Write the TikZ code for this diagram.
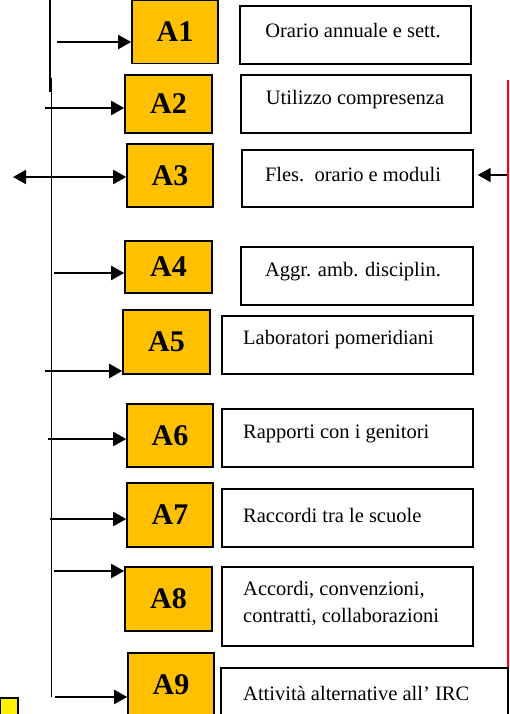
\documentclass[tikz,border=0pt]{standalone}
\usepackage{fontspec}
\setmainfont{Liberation Serif}
\usetikzlibrary{arrows.meta}
\definecolor{boxgold}{HTML}{FFC000}
\tikzset{
  codebox/.style={draw=black, line width=1.6pt, fill=boxgold, inner sep=0pt,
    font=\fontsize{30}{30}\selectfont\bfseries, text=black},
  descbox/.style={draw=black, line width=1.4pt, fill=white, inner sep=0pt},
  desc/.style={inner sep=0pt, font=\fontsize{20.5}{24}\selectfont, text=black},
  tip/.tip={Triangle[length=13pt,width=14pt]},
  link/.style={line width=2pt, -tip},
  spine/.style={line width=1.6pt},
}
\begin{document}
\begin{tikzpicture}[x=1pt, y=-1pt]
\useasboundingbox (0,0) rectangle (510,714);
\clip (0,0) rectangle (510,714);
\fill[white] (0,0) rectangle (510,714);

% vertical backbone
\coordinate (v1a) at (50,0);
\coordinate (v1b) at (50,92);
\coordinate (v2a) at (51.5,78);
\coordinate (v2b) at (51.5,697);
\draw[spine] (v1a) -- (v1b);
\draw[spine] (v2a) -- (v2b);

% red margin line
\coordinate (ra) at (508,80);
\coordinate (rb) at (508,714);
\draw[red, line width=1.6pt] (ra) -- (rb);

% activity codes
\node[codebox, minimum width=86pt, minimum height=63pt] (A1) at (175,32) {A1};
\node[codebox, minimum width=87pt, minimum height=58pt] (A2) at (168.5,104) {A2};
\node[codebox, minimum width=86pt, minimum height=63pt] (A3) at (170,175.5) {A3};
\node[codebox, minimum width=87pt, minimum height=52pt] (A4) at (168.5,267) {A4};
\node[codebox, minimum width=87pt, minimum height=64pt] (A5) at (166.5,342) {A5};
\node[codebox, minimum width=86pt, minimum height=63pt] (A6) at (170,435.5) {A6};
\node[codebox, minimum width=86pt, minimum height=64pt] (A7) at (170,515) {A7};
\node[codebox, minimum width=87pt, minimum height=64pt] (A8) at (168.5,599) {A8};
\node[codebox, minimum width=86pt, minimum height=64pt] (A9) at (171,685) {A9};

% description boxes
\node[descbox, minimum width=231pt, minimum height=58pt] (W1) at (355.5,35) {};
\node[descbox, minimum width=230pt, minimum height=58pt] (W2) at (356,104) {};
\node[descbox, minimum width=231pt, minimum height=57pt] (W3) at (357.5,178.5) {};
\node[descbox, minimum width=232pt, minimum height=58pt] (W4) at (357,276) {};
\node[descbox, minimum width=251pt, minimum height=58pt] (W5) at (347.5,345) {};
\node[descbox, minimum width=251pt, minimum height=58pt] (W6) at (347.5,438) {};
\node[descbox, minimum width=251pt, minimum height=58pt] (W7) at (347.5,518) {};
\node[descbox, minimum width=251pt, minimum height=79pt] (W8) at (347.5,606.5) {};
\node[descbox, minimum width=287pt, minimum height=64pt] (W9) at (364.5,700) {};

% description texts
\node[desc] (T1) at (353,31) {Orario annuale e sett.};
\node[desc] (T2) at (355,100) {Utilizzo compresenza};
\node[desc] (T3) at (353,175) {Fles.\ \ orario e moduli};
\node[desc] (T4) at (353,272) {Aggr. amb. disciplin.};
\node[desc, anchor=west] (T5) at (243,340) {Laboratori pomeridiani};
\node[desc, anchor=west] (T6) at (243,434) {Rapporti con i genitori};
\node[desc, anchor=west] (T7) at (243,515) {Raccordi tra le scuole};
\node[desc, anchor=west, align=left, font=\fontsize{20.5}{27}\selectfont] (T8) at (243,603.5)
  {Accordi, convenzioni,\\contratti, collaborazioni};
\node[desc, anchor=west] (T9) at (243,693) {Attività alternative all’ IRC};

% arrow tails
\coordinate (s1) at (57,42);
\coordinate (s2) at (45,108);
\coordinate (s3) at (13,177);
\coordinate (s4) at (54,273);
\coordinate (s5) at (45,371);
\coordinate (s6) at (48,439);
\coordinate (s7) at (50,519);
\coordinate (s8) at (54,571);
\coordinate (s9) at (55,697);
\coordinate (sr) at (507,175);

% arrows into the codes
\draw[link] (s1) -- (s1 -| A1.west);
\draw[link] (s2) -- (s2 -| A2.west);
\draw[line width=2pt, tip-tip] (s3) -- (s3 -| A3.west);
\draw[link] (s4) -- (s4 -| A4.west);
\draw[link] (s5) -- (s5 -| A5.west);
\draw[link] (s6) -- (s6 -| A6.west);
\draw[link] (s7) -- (s7 -| A7.west);
\draw[link] (s8) -- (s8 -| A8.west);
\draw[link] (s9) -- (s9 -| A9.west);
\draw[link, shorten >=4pt] (sr) -- (sr -| W3.east);

% small yellow box in the corner
\node[draw=black, line width=1.4pt, fill=yellow, minimum width=18pt, minimum height=30pt, inner sep=0pt] (Y) at (9,713) {};
\end{tikzpicture}
\end{document}
